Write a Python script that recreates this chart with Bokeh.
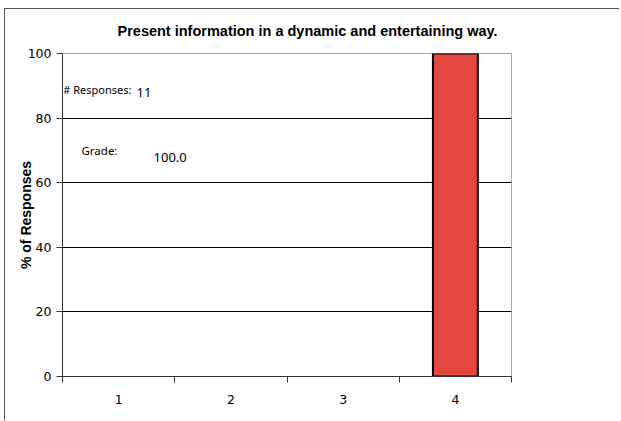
from bokeh.plotting import figure
from bokeh.models import FixedTicker, Label, Range1d, ColumnDataSource
from bokeh.embed import file_html
from bokeh.resources import INLINE

categories = [1, 2, 3, 4]
percent = [0, 0, 0, 100]
y_ticks = [0, 20, 40, 60, 80, 100]
title_text = "Present information in a dynamic and entertaining way."
y_label = "% of Responses"
responses = 11
grade = 100.0

p = figure(width=615, height=412, output_backend="svg", toolbar_location=None,
           x_range=Range1d(0.5, 4.5), y_range=Range1d(0, 100),
           min_border_left=57, min_border_right=109, min_border_top=43, min_border_bottom=45)
p.styles = {"margin": "8px 0px 0px 4px", "border-left": "1px solid #555", "border-top": "1px solid #555"}

p.title.text = title_text
p.title.align = "left"
p.title.offset = 55
p.title.text_font = "Liberation Sans"
p.title.text_font_style = "bold"
p.title.text_font_size = "14.5px"
p.title.text_color = "black"
p.title.vertical_align = "top"
p.title.standoff = 26

src = ColumnDataSource(dict(x=categories, top=percent,
                            la=[0 if v == 0 else 1 for v in percent]))
p.vbar(x="x", top="top", width=0.4, source=src, fill_color="#E4473F",
       line_color="black", line_width=2, line_alpha="la", fill_alpha="la")

p.outline_line_color = "#aaaaaa"
p.outline_line_width = 1

p.xgrid.visible = False
p.ygrid.ticker = FixedTicker(ticks=[20, 40, 60, 80])
p.ygrid.grid_line_color = "black"
p.ygrid.grid_line_width = 1

p.yaxis.ticker = FixedTicker(ticks=y_ticks)
p.yaxis.axis_line_color = "#333333"
p.yaxis.major_tick_line_color = "#333333"
p.yaxis.major_tick_out = 6
p.yaxis.major_tick_in = 0
p.yaxis.minor_tick_line_color = None
p.yaxis.major_label_text_font = "DejaVu Sans"
p.yaxis.major_label_text_font_size = "12.5px"
p.yaxis.major_label_text_color = "black"
p.yaxis.major_label_standoff = 5
p.yaxis.axis_label = y_label
p.yaxis.axis_label_text_font = "Liberation Sans"
p.yaxis.axis_label_text_font_style = "bold"
p.yaxis.axis_label_text_font_size = "14px"
p.yaxis.axis_label_text_color = "black"
p.yaxis.axis_label_standoff = -9

p.xaxis.ticker = FixedTicker(ticks=categories, minor_ticks=[0.5, 1.5, 2.5, 3.5, 4.5])
p.xaxis.axis_line_color = "#333333"
p.xaxis.major_tick_out = 0
p.xaxis.major_tick_in = 0
p.xaxis.minor_tick_out = 6
p.xaxis.minor_tick_in = 0
p.xaxis.minor_tick_line_color = "#333333"
p.xaxis.major_label_text_font = "DejaVu Sans"
p.xaxis.major_label_text_font_size = "12.5px"
p.xaxis.major_label_text_color = "black"
p.xaxis.major_label_standoff = 12

def info(x, y, t, size):
    p.add_layout(Label(x=x, y=y, text=t, text_font="Noto Sans", text_font_size=size,
                       text_align="left", text_baseline="middle", text_color="black"))

info(0.507, 88.9, "# Responses:", "11px")
info(1.16, 88.0, str(responses), "13px")
info(0.669, 70.1, "Grade:", "11.5px")
info(1.311, 67.9, f"{grade:.1f}", "13px")

open("out.html", "w").write(file_html(p, INLINE))
